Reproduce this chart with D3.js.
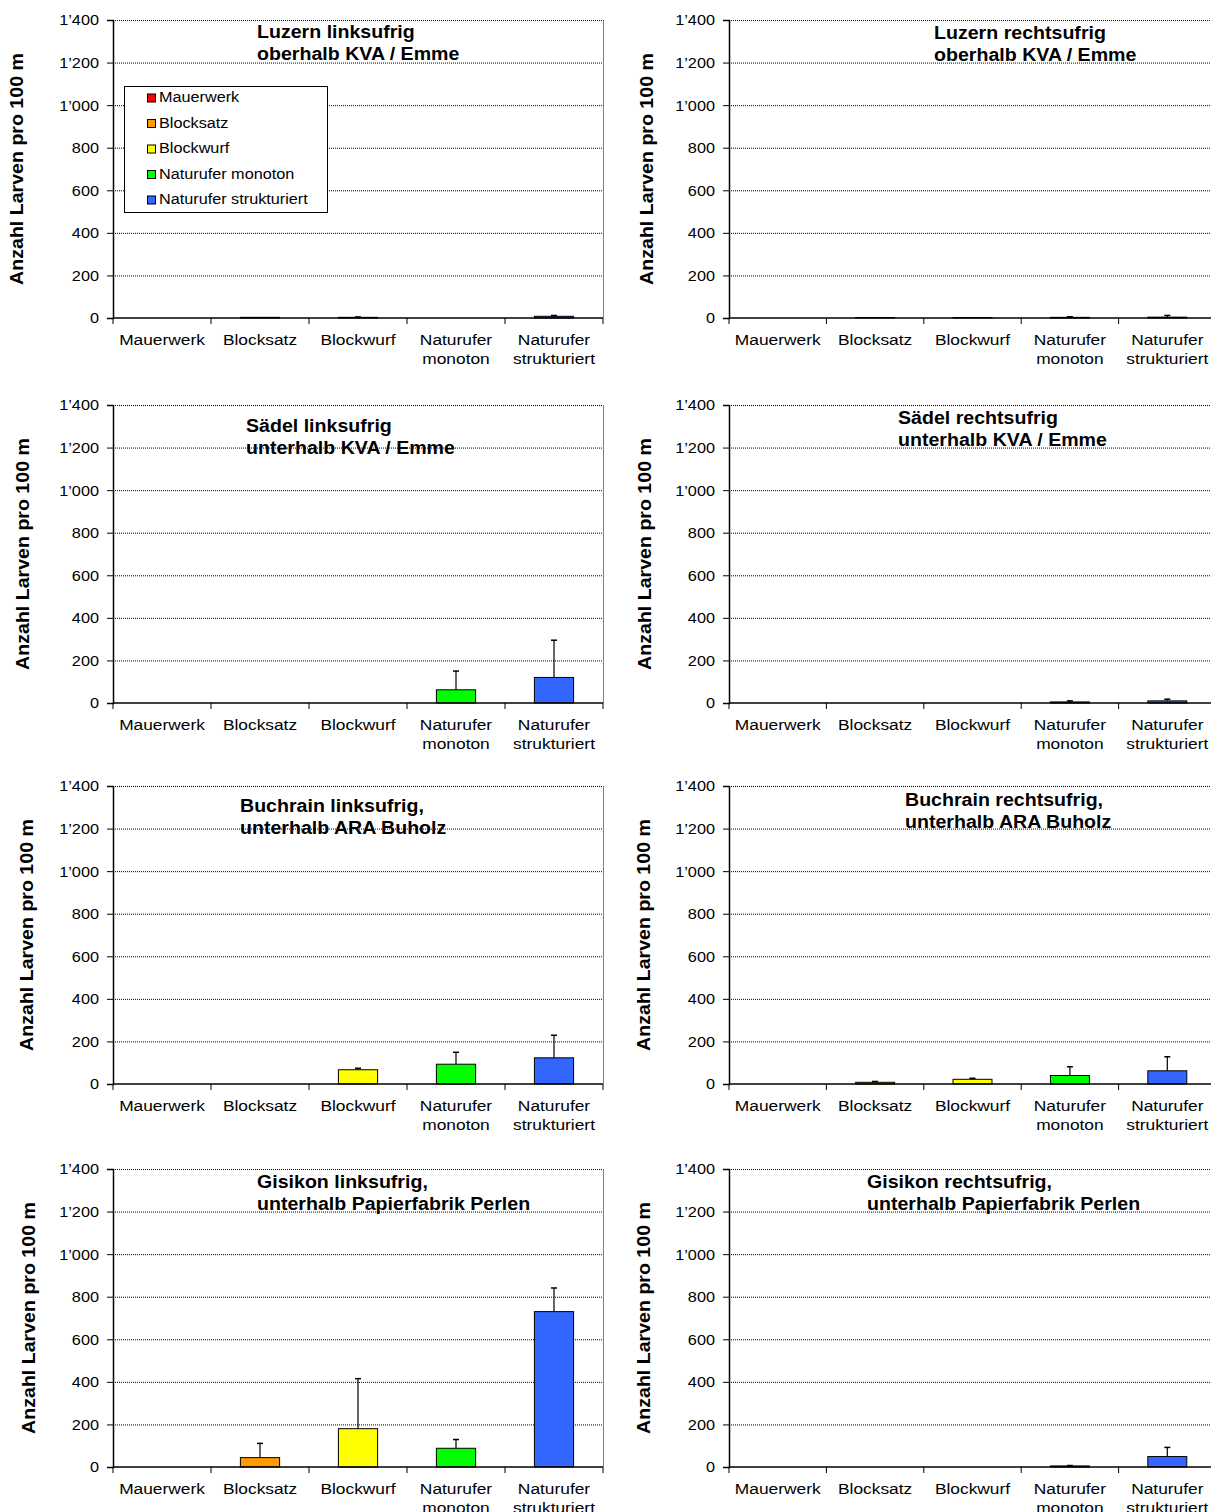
<!DOCTYPE html>
<html><head><meta charset="utf-8">
<script src="https://cdn.jsdelivr.net/npm/d3@7"></script>
<style>body{margin:0;background:#fff;} svg{display:block;font-family:"Liberation Sans",Arial,sans-serif;}</style>
</head><body>
<svg id="c" width="1211" height="1512"></svg>
<script>
const categories = ["Mauerwerk","Blocksatz","Blockwurf","Naturufer monoton","Naturufer strukturiert"];
const categoryLabels = [["Mauerwerk"],["Blocksatz"],["Blockwurf"],["Naturufer","monoton"],["Naturufer","strukturiert"]];
const seriesColors = ["#FF0000","#FF9900","#FFFF00","#00FF00","#3366FF"];
const yTicks = [0,200,400,600,800,1000,1200,1400];
const yAxisTitle = "Anzahl Larven pro 100 m";

const panelTitles = [
  ["Luzern linksufrig","oberhalb KVA / Emme"],
  ["Luzern rechtsufrig","oberhalb KVA / Emme"],
  ["Sädel linksufrig","unterhalb KVA / Emme"],
  ["Sädel rechtsufrig","unterhalb KVA / Emme"],
  ["Buchrain linksufrig,","unterhalb ARA Buholz"],
  ["Buchrain rechtsufrig,","unterhalb ARA Buholz"],
  ["Gisikon linksufrig,","unterhalb Papierfabrik Perlen"],
  ["Gisikon rechtsufrig,","unterhalb Papierfabrik Perlen"]
];
const luzernLinks = [0, 3, 3, 0, 8];
const luzernLinksErr = [0, 2, 5, 0, 12];
const luzernRechts = [0, 2, 2, 3, 4];
const luzernRechtsErr = [0, 2, 2, 6, 12];
const saedelLinks = [0, 0, 0, 62, 120];
const saedelLinksErr = [0, 0, 0, 150, 295];
const saedelRechts = [0, 0, 0, 5, 10];
const saedelRechtsErr = [0, 0, 0, 10, 18];
const buchrainLinks = [0, 0, 67, 93, 123];
const buchrainLinksErr = [0, 0, 74, 149, 229];
const buchrainRechts = [0, 8, 22, 40, 62];
const buchrainRechtsErr = [0, 12, 27, 81, 128];
const gisikonLinks = [0, 44, 180, 88, 730];
const gisikonLinksErr = [0, 111, 415, 129, 841];
const gisikonRechts = [0, 0, 0, 5, 49];
const gisikonRechtsErr = [0, 0, 0, 7, 92];

const panelValues = [luzernLinks,luzernRechts,saedelLinks,saedelRechts,buchrainLinks,buchrainRechts,gisikonLinks,gisikonRechts];
const panelErrors = [luzernLinksErr,luzernRechtsErr,saedelLinksErr,saedelRechtsErr,buchrainLinksErr,buchrainRechtsErr,gisikonLinksErr,gisikonRechtsErr];

const SX = 1.12; // horizontal text stretch
const svg = d3.select("#c");
const colX = [{x:113,w:490},{x:729,w:487}];
const rowY = [20,405,786,1169];
const plotH = 298;
const titlePos = [[257,33],[934,34],[246,427],[898,419],[240,807],[905,801],[257,1183],[867,1183]];
const yTitleX = [[18,648],[24,646],[28,645],[30,645]];
const fmt = v => v>=1000 ? Math.floor(v/1000)+"\u2019"+String(v%1000).padStart(3,"0") : String(v);

panelValues.forEach((vals,i)=>{
  const col = i%2, row = Math.floor(i/2);
  const X0 = colX[col].x, W = colX[col].w, Y0 = rowY[row];
  const g = svg.append("g").attr("transform",`translate(${X0},${Y0})`);
  const x = d3.scaleBand().domain(categories).range([0,W]).paddingInner(0).paddingOuter(0);
  const y = d3.scaleLinear().domain([0,1400]).range([plotH,0]);

  g.selectAll("line.grid").data(yTicks.filter(t=>t>0)).enter().append("line")
    .attr("x1",0).attr("x2",W).attr("y1",d=>y(d)+0.5).attr("y2",d=>y(d)+0.5)
    .attr("stroke","#000").attr("stroke-width",1).attr("stroke-dasharray","1,1");
  g.append("line").attr("x1",W+0.5).attr("x2",W+0.5).attr("y1",0).attr("y2",plotH)
    .attr("stroke","#808080").attr("stroke-width",1);

  const bw = x.bandwidth()/2.5;
  const bars = g.append("g");
  vals.forEach((v,k)=>{
    if(v<=0) return;
    const cx = x(categories[k]) + x.bandwidth()/2;
    bars.append("rect").attr("x",cx-bw/2).attr("width",bw)
      .attr("y",y(v)).attr("height",y(0)-y(v))
      .attr("fill",seriesColors[k]).attr("stroke","#000").attr("stroke-width",1);
    const e = panelErrors[i][k];
    if(e>v){
      bars.append("line").attr("x1",cx).attr("x2",cx).attr("y1",y(v)).attr("y2",y(e))
        .attr("stroke","#000").attr("stroke-width",1.2);
      bars.append("line").attr("x1",cx-3).attr("x2",cx+3).attr("y1",y(e)).attr("y2",y(e))
        .attr("stroke","#000").attr("stroke-width",1.5);
    }
  });

  const ya = g.append("g").call(d3.axisLeft(y).tickValues(yTicks).tickFormat(fmt).tickSize(6).tickPadding(8));
  ya.select(".domain").attr("stroke","#000").attr("stroke-width",1.5);
  ya.selectAll("text").attr("font-size","15.5px").attr("fill","#000")
    .attr("font-family","Liberation Sans, Arial, sans-serif")
    .attr("x",0).attr("transform","translate(-14,0) scale(1.05,1)");
  ya.selectAll(".tick line").attr("stroke","#000");

  const xa = g.append("g").attr("transform",`translate(0,${plotH})`);
  xa.append("line").attr("x1",0).attr("x2",W).attr("y1",0).attr("y2",0).attr("stroke","#000").attr("stroke-width",1.5);
  d3.range(categories.length+1).forEach(k=>{
    const tx = k<categories.length ? x(categories[k]) : W;
    xa.append("line").attr("x1",tx).attr("x2",tx).attr("y1",0).attr("y2",6).attr("stroke","#000").attr("stroke-width",1);
  });
  categories.forEach((c,k)=>{
    const cx = x(c)+x.bandwidth()/2;
    const t = xa.append("text").attr("transform",`translate(${cx},27) scale(${SX},1)`)
      .attr("text-anchor","middle").attr("font-size","15.5px").attr("fill","#000");
    categoryLabels[k].forEach((ln,j)=>t.append("tspan").attr("x",0).attr("dy",j===0?0:19).text(ln));
  });

  const ytx = yTitleX[row][col], yty = Y0 + plotH/2;
  svg.append("text").attr("transform",`translate(${ytx},${yty}) rotate(-90) scale(${SX},1)`)
    .attr("text-anchor","middle").attr("dominant-baseline","middle")
    .attr("font-size","17.5px").attr("font-weight","bold").attr("fill","#000").text(yAxisTitle);

  const [tx,ty] = titlePos[i];
  panelTitles[i].forEach((ln,j)=>{
    svg.append("text").attr("transform",`translate(${tx},${ty+j*22.5}) scale(${SX},1)`)
      .attr("dominant-baseline","middle")
      .attr("font-size","17.5px").attr("font-weight","bold").attr("fill","#000").text(ln);
  });
});

const lg = svg.append("g").attr("transform","translate(124,86)");
lg.append("rect").attr("x",0.5).attr("y",0.5).attr("width",203).attr("height",126)
  .attr("fill","#fff").attr("stroke","#000").attr("stroke-width",1);
categories.forEach((c,k)=>{
  const yy = 12.5 + k*25.5;
  lg.append("rect").attr("x",23.5).attr("y",yy-4.5).attr("width",8).attr("height",8)
    .attr("fill",seriesColors[k]).attr("stroke","#000").attr("stroke-width",1);
  lg.append("text").attr("transform",`translate(35,${yy}) scale(${SX},1)`).attr("dominant-baseline","middle")
    .attr("font-size","14.5px").attr("fill","#000").text(c);
});
</script>
</body></html>
